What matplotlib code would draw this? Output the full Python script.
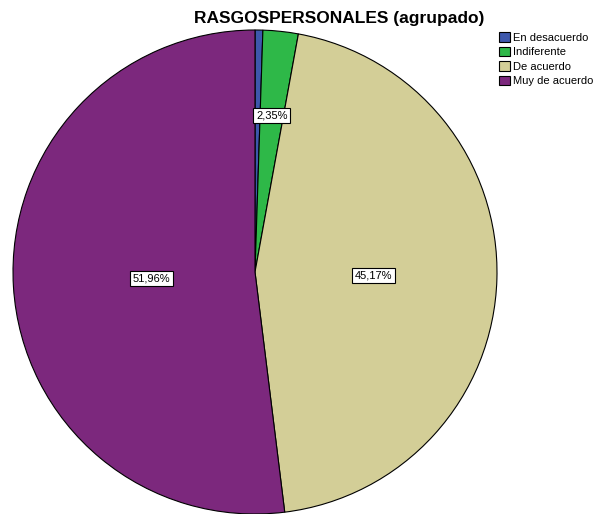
import numpy as np
import matplotlib
matplotlib.use("Agg")
import matplotlib.pyplot as plt

plt.rcParams['font.family'] = ['Liberation Sans', 'DejaVu Sans']

categories = ["En desacuerdo", "Indiferente", "De acuerdo", "Muy de acuerdo"]
values = [0.52, 2.35, 45.17, 51.96]
colors = ["#3E58AC", "#2EB848", "#D3CE97", "#7C287D"]
show_label = [False, True, True, True]
label_dist = [0.5, 0.65, 0.49, 0.43]
title = "RASGOSPERSONALES (agrupado)"

fig = plt.figure(figsize=(6.0, 5.14), dpi=100)
W, H = 600, 514
cx, cy, r = 255, 272, 242
ax = fig.add_axes([(cx - r) / W, (H - cy - r) / H, 2 * r / W, 2 * r / H])

wedges, _ = ax.pie(values, colors=colors, startangle=90, counterclock=False,
                   wedgeprops=dict(edgecolor="black", linewidth=0.8))
for w in wedges:
    w.set_clip_on(False)
ax.set_xlim(-1, 1)
ax.set_ylim(-1, 1)
ax.set_aspect("equal")
ax.axis("off")

for w, v, show, d in zip(wedges, values, show_label, label_dist):
    if not show:
        continue
    ang = np.deg2rad((w.theta1 + w.theta2) / 2)
    ax.text(d * np.cos(ang), d * np.sin(ang), f"{v:.2f}%".replace(".", ","),
            ha="center", va="center", fontsize=8,
            bbox=dict(boxstyle="square,pad=0.25", fc="white", ec="black", lw=0.8))

fig.text(339 / W, 1 - 18 / H, title, ha="center", va="center",
         fontsize=12.5, fontweight="bold")

leg = fig.legend(wedges, categories, loc="upper left",
                 bbox_to_anchor=(497 / W, 1 - 30 / H), frameon=False,
                 fontsize=8, handlelength=0.95, handleheight=0.95,
                 handletextpad=0.25, labelspacing=0.35, borderpad=0.2,
                 borderaxespad=0)

fig.savefig("out.png", dpi=100)
